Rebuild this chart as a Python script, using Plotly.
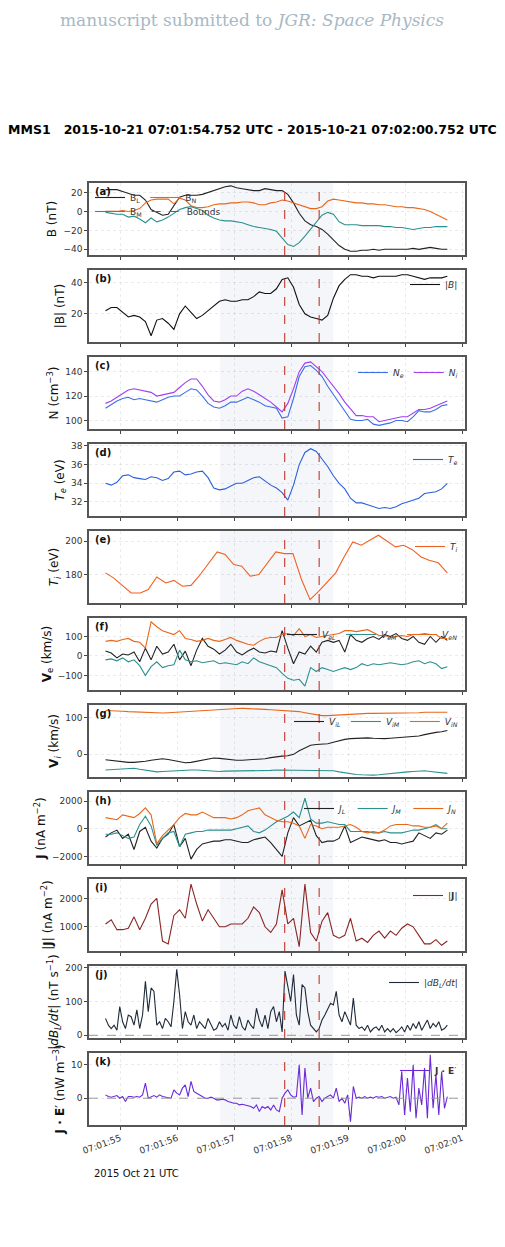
import numpy as np
import pandas as pd
import plotly.graph_objects as go
from plotly.subplots import make_subplots

BASE = pd.Timestamp("2015-10-21 07:01:54")
def T(secs):
    return [BASE + pd.Timedelta(seconds=float(s)) for s in secs]

# time grids (seconds after 07:01:54)
t_grid = [0.74 + 0.1 * k for k in range(61)]
t_fine = [0.74 + 0.05 * m for m in range(121)]
t_ti = [0.74, 0.88, 1.19, 1.35, 1.49, 1.64, 1.80, 1.94, 2.09, 2.24, 2.38, 2.70, 2.84, 2.99, 3.13, 3.28, 3.43,
        3.73, 3.88, 4.03, 4.18, 4.33, 4.48, 4.78, 4.92, 5.08, 5.23, 5.53, 5.83, 5.97, 6.12, 6.28, 6.42, 6.58, 6.74]

BL = [23,23,23,21,19,17,17,12,2,-1,-4,-3,6,15,17,17,17,18,20,22,24,26,27,25,24,23,22,22,24,23,22,22,18,9,-2,-10,-14,-16,-19,-24,-30,-36,-40,-42,-42,-41,-41,-40,-41,-40,-40,-40,-40,-40,-39,-40,-39,-38,-39,-40,-40]
BN = [0,0,0,1,0,1,3,9,12,13,13,13,8,14,12,6,4,4,5,7,8,8,9,9,10,10,9,7,7,9,10,12,11,9,7,5,3,3,5,11,13,12,11,10,9,9,8,8,7,7,6,5,5,4,4,3,2,0,-3,-6,-9]
BM = [-1,-2,-3,-3,-6,-5,-8,-12,-7,-11,-9,-6,-2,2,4,5,3,1,-4,-7,-9,-10,-10,-11,-12,-14,-16,-17,-18,-19,-21,-28,-35,-37,-33,-26,-19,-12,-4,-1,-3,-11,-14,-14,-14,-15,-15,-15,-15,-16,-16,-17,-17,-18,-19,-18,-17,-17,-16,-16,-16]
Bmag = [22,24,24,21,18,19,18,15,6,16,17,14,10,20,25,21,17,19,22,25,28,29,28,28,29,29,31,34,33,33,36,42,43,37,26,20,18,17,16,19,30,38,42,45,45,44,44,43,44,44,44,44,45,45,44,43,42,43,43,43,44]
Ni = [114,116,119,122,125,126,125,124,123,120,121,122,123,127,131,134,134,128,121,116,115,117,120,120,124,126,124,121,118,115,111,107,114,126,140,147,148,144,140,134,128,122,115,109,104,104,103,103,99,100,101,102,103,103,106,109,109,110,112,114,116]
Ne = [110,113,116,118,119,117,118,117,116,115,117,119,120,120,123,126,125,120,114,111,110,112,115,115,117,119,117,115,112,111,110,102,103,118,136,144,145,141,136,128,121,114,108,101,100,100,101,97,96,97,98,100,100,99,103,108,107,107,109,112,113]
Te = [34.0,33.8,34.1,34.8,34.9,34.6,34.5,34.4,34.7,34.6,34.3,34.5,35.2,35.3,34.9,35.0,35.2,35.3,34.6,33.5,33.3,33.4,33.7,34.0,34.0,34.3,34.6,34.7,34.2,33.8,33.5,33.0,32.2,33.8,36.0,37.3,37.7,37.4,36.6,35.8,34.8,34.0,33.4,32.4,31.9,31.9,31.7,31.5,31.3,31.4,31.3,31.5,31.8,32.0,32.2,32.4,32.9,33.0,33.1,33.4,34.0]
Ti = [181,178,169,169,171,178.5,175,176.5,173,173.5,179,193.5,192,186,185,179,180,193.5,192.5,192.5,177,165,170,181,190,199.5,197.5,203.5,196.5,197.5,195,190.5,188.5,187,181]
VeL = [25,15,-10,10,5,20,-30,40,-20,50,10,20,60,-20,25,-50,30,90,50,35,10,30,60,20,5,25,40,20,15,25,20,130,40,-40,20,10,50,20,70,80,70,80,20,110,80,70,90,100,85,110,100,115,90,80,100,70,60,100,70,100,80]
VeM = [-20,-15,-25,-10,-30,-20,-50,-100,-55,-30,-60,-50,-45,30,-20,-30,-25,-35,-30,-25,-40,-35,-40,-45,-30,-40,-10,-30,-40,-50,-60,-90,-115,-125,-120,-155,-60,-80,-60,-70,-80,-70,-60,-70,-60,-40,-50,-40,-45,-40,-35,-40,-45,-40,-30,-25,-40,-30,-40,-65,-55]
VeN = [75,80,75,85,90,75,70,40,175,150,130,120,110,130,90,85,75,80,90,80,75,85,95,80,70,60,55,75,90,95,95,110,115,105,140,100,110,95,100,105,110,115,130,130,125,130,135,120,105,105,95,100,105,100,110,110,115,110,110,90,90]
ViL = [-15,-17,-19,-21,-22,-22,-21,-19,-16,-13,-12,-14,-17,-20,-23,-22,-19,-15,-12,-10,-11,-13,-15,-16,-16,-15,-15,-14,-12,-9,-6,-5,-4,0,10,18,25,27,27,29,33,38,41,43,44,45,45,44,43,43,44,45,46,47,48,50,54,58,60,62,65]
ViM = [-43,-42,-40,-38,-37,-38,-41,-44,-47,-48,-47,-46,-45,-44,-43,-43,-43,-44,-46,-47,-47,-46,-46,-45,-45,-45,-45,-44,-44,-44,-43,-43,-43,-44,-45,-45,-45,-45,-44,-44,-45,-48,-51,-54,-55,-56,-57,-57,-56,-54,-52,-50,-49,-48,-47,-46,-45,-47,-49,-51,-52]
ViN = [120,120,119,118,117,116,115,114,113,112,113,114,115,116,117,118,119,120,121,122,123,124,125,125,126,125,125,124,123,122,121,120,120,119,117,114,111,108,106,106,107,108,109,110,111,112,112,112,112,112,113,113,113,114,114,114,115,115,115,115,115]
JL = [-600,-300,-100,-700,-400,-1500,-200,100,-900,-1400,-700,-400,300,-1300,-700,-2200,-1500,-1100,-1000,-900,-900,-800,-800,-900,-1000,-1000,-800,-700,-600,-1000,-1500,-2000,-300,800,200,400,600,-500,-1000,-900,-900,-700,200,-1000,-800,-600,-700,-800,-900,-800,-1000,-1000,-1100,-1000,-900,-300,-500,-700,-300,-400,-100]
JM = [-400,-400,-300,-500,-700,-600,300,900,200,-1200,-700,-300,-200,-1300,-400,-300,-200,-200,-100,-100,-100,-100,-100,0,100,200,-200,-300,-100,200,500,700,900,1200,800,2200,700,400,400,500,400,300,300,-200,-200,-200,-200,-300,-300,-200,-300,-300,-300,-200,-100,-100,0,100,300,0,0]
JN = [800,700,650,1000,900,800,1100,1500,1000,-1100,-500,-100,300,800,1100,1000,1000,1200,1000,800,800,800,700,800,1000,1300,1400,1500,1000,800,600,500,500,400,200,-700,300,200,0,100,100,100,200,300,100,-200,-300,-200,-300,-100,200,300,300,300,200,200,100,100,200,0,400]
Jmag = [1100,1250,900,900,950,1350,900,1300,1800,2000,500,400,1400,1600,1300,2500,1800,1200,1600,1300,1000,1000,1100,1100,1100,1300,1700,1500,1000,800,1100,2300,1100,1300,300,2500,800,500,1200,1500,700,600,700,1300,500,600,450,700,850,600,850,700,950,1100,1000,700,400,400,550,350,500]
dBL = [50,30,20,30,15,85,40,20,60,55,30,75,20,60,160,70,140,130,30,40,
       20,50,40,25,100,195,120,20,70,40,30,60,20,40,30,20,50,30,15,20,
       40,25,35,15,60,30,20,55,25,15,45,30,20,80,45,25,60,20,70,85,
       40,70,10,190,150,100,180,60,30,150,140,70,30,20,10,20,45,60,80,95,
       90,130,60,40,70,50,30,110,30,20,25,15,30,10,20,25,15,30,10,20,
       10,20,8,15,25,10,30,15,35,20,40,15,30,45,20,35,25,40,15,20,30]
JE = [1,0.5,0.3,0.5,0.8,0,0.5,-1,0.5,0.5,0.3,0.5,0.3,1,4.5,0,0.5,0.8,0.3,1,
      0.5,0.3,0,0,2.5,1.5,1,3,4,0.5,5,2,1.5,1,0.5,0,0,0.3,0,-0.5,
      -0.5,-0.3,-0.5,-1,-1.2,-1.5,-1.5,-2,-1.8,-2,-2.2,-2.5,-3,-2,-4,-2.5,-3,-2.5,-3.5,-2,
      -3.5,-4,0,1.5,2.5,1,0.3,0.5,10,-5,9,0,3,-1,0,0.5,-1,0,0.5,1,
      0,3,-1,0,-1.5,1,-7,3.5,0,0.3,0,0.5,0,0.3,0,0.5,0.3,0.5,0,0.3,
      0.5,0,0.3,-2,8,-5,6,-4,10,-6,3,-2,9,-6,13,-3,7,-5,8,-3,0.5]

shade = (2.75, 4.74)
bounds = [3.885, 4.49]
xrange_s = (0.45, 7.05)

C_BL, C_BN, C_BM = "#222222", "#e8681a", "#2a9090"
panels = [
    ("(a)", [("B<sub>L</sub>", t_grid, BL, C_BL, "legend"), ("B<sub>N</sub>", t_grid, BN, C_BN, "legend"), ("B<sub>M</sub>", t_grid, BM, C_BM, "legend12")], "B (nT)", [-46, 30], [-40, -20, 0, 20]),
    ("(b)", [("|<i>B</i>|", t_grid, Bmag, "#111111", None)], "|B| (nT)", [2, 48], [20, 40]),
    ("(c)", [("<i>N<sub>e</sub></i>", t_grid, Ne, "#3a6fe8", None), ("<i>N<sub>i</sub></i>", t_grid, Ni, "#a040f0", None)], "N (cm<sup>−3</sup>)", [93, 152], [100, 120, 140]),
    ("(d)", [("<i>T<sub>e</sub></i>", t_grid, Te, "#2a5fe0", None)], "<i>T<sub>e</sub></i> (eV)", [30.5, 38.2], [32, 34, 36, 38]),
    ("(e)", [("<i>T<sub>i</sub></i>", t_ti, Ti, "#f06020", None)], "<i>T<sub>i</sub></i> (eV)", [163, 206], [180, 200]),
    ("(f)", [("<i>V<sub>eL</sub></i>", t_grid, VeL, C_BL, None), ("<i>V<sub>eM</sub></i>", t_grid, VeM, C_BM, None), ("<i>V<sub>eN</sub></i>", t_grid, VeN, C_BN, None)], "<b>V</b><sub>e</sub> (km/s)", [-175, 195], [-100, 0, 100]),
    ("(g)", [("<i>V<sub>iL</sub></i>", t_grid, ViL, C_BL, None), ("<i>V<sub>iM</sub></i>", t_grid, ViM, C_BM, None), ("<i>V<sub>iN</sub></i>", t_grid, ViN, C_BN, None)], "<b>V</b><sub><i>i</i></sub> (km/s)", [-62, 135], [0, 100]),
    ("(h)", [("<i>J<sub>L</sub></i>", t_grid, JL, C_BL, None), ("<i>J<sub>M</sub></i>", t_grid, JM, C_BM, None), ("<i>J<sub>N</sub></i>", t_grid, JN, C_BN, None)], "<b>J</b> (nA m<sup>−2</sup>)", [-2550, 2650], [-2000, 0, 2000]),
    ("(i)", [("|<b>J</b>|", t_grid, Jmag, "#8b2525", None)], "|<b>J</b>| (nA m<sup>−2</sup>)", [150, 2680], [1000, 2000]),
    ("(j)", [("|<i>dB<sub>L</sub>/dt</i>|", t_fine, dBL, "#1f2a3a", None)], "|<i>dB<sub>L</sub>/dt</i>| (nT s<sup>−1</sup>)", [-8, 205], [0, 100, 200]),
    ("(k)", [("<b>J · E</b>′", t_fine, JE, "#6a2ad8", None)], "<b>J · E</b>′ (nW m<sup>−3</sup>)", [-8, 13.5], [0, 10]),
]

H = 1247
W = 505
OFFY = 8
OFFX = 8
def py(px):
    return 1 - (px - OFFY) / H
def px_x(px):
    return (px - OFFX) / W

fig = make_subplots(rows=11, cols=1)
x0, x1 = px_x(89), px_x(465)
for i, (lab, series, ytitle, yr, ytv) in enumerate(panels):
    r = i + 1
    top = 183 + 87 * i
    bot = top + 72
    dom = [py(bot), py(top)]
    for name, ts, vals, col, lg in series:
        if lg is None:
            lg = "legend" if r == 1 else f"legend{r}"
        fig.add_trace(go.Scatter(x=T(ts), y=vals, mode="lines", name=name,
                                 line=dict(color=col, width=1.1), legend=lg), row=r, col=1)
    if r == 1:
        fig.add_trace(go.Scatter(x=[None], y=[None], mode="lines", name="Bounds",
                                 line=dict(color="#c0392b", width=1.2, dash="dash"), legend="legend12"), row=1, col=1)
    xa = "x" if r == 1 else f"x{r}"
    ya = "y" if r == 1 else f"y{r}"
    fig.add_shape(type="rect", xref=xa, yref=f"{ya} domain", x0=T([shade[0]])[0], x1=T([shade[1]])[0],
                  y0=0, y1=1, fillcolor="rgba(220,226,234,0.3)", line_width=0, layer="below")
    for b in bounds:
        fig.add_shape(type="line", xref=xa, yref=f"{ya} domain", x0=T([b])[0], x1=T([b])[0], y0=0, y1=1,
                      line=dict(color="#c0392b", width=1.1, dash="dash"))
    if r in (10, 11):
        fig.add_shape(type="line", xref=f"{xa} domain", yref=ya, x0=0, x1=1, y0=0, y1=0,
                      line=dict(color="#999999", width=1, dash="dash"))
    fig.add_annotation(xref=f"{xa} domain", yref=f"{ya} domain", x=0.01, y=0.99, xanchor="left", yanchor="top",
                       text=f"<b>{lab}</b>", showarrow=False, font=dict(size=10, color="#111"))
    fig.update_yaxes(row=r, col=1, domain=dom, range=yr, tickvals=ytv, automargin=False,
                     title=dict(text=ytitle, font=dict(size=12, color="#111"), standoff=4),
                     showline=True, mirror=True, linecolor="#555", linewidth=1.5, ticks="outside", ticklen=3,
                     tickfont=dict(size=9, color="#333"), gridcolor="rgba(0,0,0,0.08)", griddash="dot", zeroline=False)
    fig.update_xaxes(row=r, col=1, domain=[x0, x1], range=T(xrange_s), automargin=False, showline=True, mirror=True,
                     linecolor="#555", linewidth=1.5, ticks="outside", ticklen=3, tickformat="%H:%M:%S", dtick=1000,
                     tick0=BASE, showticklabels=(r == 11), tickangle=-20, tickfont=dict(size=9, color="#333"),
                     gridcolor="rgba(0,0,0,0.08)", griddash="dot", zeroline=False)

legend_layout = {}
def ldef(xp, ypx, xanchor="right"):
    return dict(x=xp, y=py(ypx), xanchor=xanchor, yanchor="top", orientation="h", bgcolor="rgba(255,255,255,0)",
                font=dict(size=9, color="#333"), itemwidth=30, tracegroupgap=0)
legend_layout["legend"] = ldef(px_x(90), 183, "left")
legend_layout["legend12"] = ldef(px_x(90), 197, "left")
rights = {2: 270, 3: 358, 4: 445, 5: 532, 6: 620, 7: 707, 8: 794, 9: 881, 10: 968, 11: 1056}
for r, ypx in rights.items():
    legend_layout[f"legend{r}"] = ldef(px_x(463), ypx)
fig.update_layout(**legend_layout)

fig.add_annotation(xref="paper", yref="paper", x=px_x(252), y=1, yanchor="top", showarrow=False,
                   text="manuscript submitted to <i>JGR: Space Physics</i>",
                   font=dict(family="DejaVu Serif", size=17, color="#a8b8c4"))
fig.add_annotation(xref="paper", yref="paper", x=px_x(252), y=py(130), yanchor="middle", showarrow=False,
                   text="<b>MMS1   2015-10-21 07:01:54.752 UTC - 2015-10-21 07:02:00.752 UTC</b>",
                   font=dict(family="DejaVu Sans", size=12.5, color="#000"))
fig.add_annotation(xref="paper", yref="paper", x=px_x(92), y=py(1173), xanchor="left", yanchor="middle",
                   showarrow=False, text="2015 Oct 21 UTC", font=dict(family="DejaVu Sans", size=10, color="#111"))

fig.update_layout(width=W, height=H, margin=dict(l=0, r=0, t=0, b=0, autoexpand=False), plot_bgcolor="white",
                  paper_bgcolor="white", font=dict(family="DejaVu Sans"))
fig.write_html("out.html")
